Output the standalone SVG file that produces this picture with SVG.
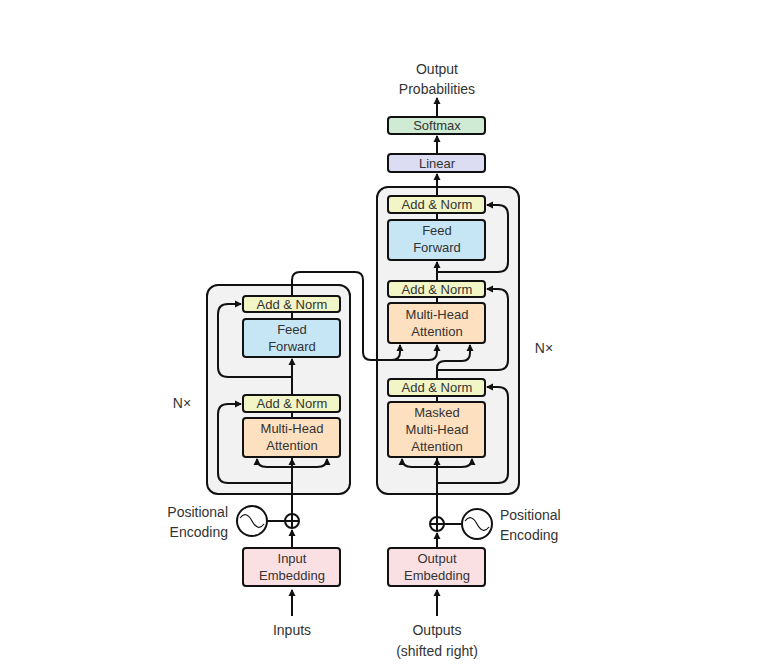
<svg xmlns="http://www.w3.org/2000/svg" width="761" height="665" viewBox="0 0 761 665">
<defs>
<style>
text{font-family:"Liberation Sans",Arial,sans-serif;font-size:13px;fill:#333;text-anchor:middle}
.lbl{font-size:14px}
.b{stroke:#111;stroke-width:2}
.stack{fill:#f2f2f2;stroke:#111;stroke-width:2}
.an{fill:#f2f5c6}.ff{fill:#c6e6f6}.mha{fill:#fde0bf}.emb{fill:#fbe0e3}.lin{fill:#dcdcf2}.sm{fill:#d0ebd3}
.c{fill:none;stroke:#111;stroke-width:2}
</style>
<marker id="ah" markerWidth="8" markerHeight="8" refX="6" refY="4" orient="auto" markerUnits="userSpaceOnUse"><path d="M0,0.5 L7,4 L0,7.5 Z" fill="#111"/></marker>
</defs>
<rect width="761" height="665" fill="#fff"/>
<g id="encoder-stack"><rect class="stack" x="207" y="285" width="143" height="209" rx="11"/></g>
<g id="decoder-stack"><rect class="stack" x="377" y="187" width="142" height="307" rx="11"/></g>
<g id="connectors">
<!-- encoder -->
<path class="c" d="M292,616 V590" marker-end="url(#ah)"/>
<path class="c" d="M292,548 V530" marker-end="url(#ah)"/>
<path class="c" d="M267,521 H285"/>
<path class="c" d="M292,514 V458"/>
<path class="c" d="M292,475 V459" marker-end="url(#ah)"/>
<path class="c" d="M292,467 H267 Q257,467 257,459" marker-end="url(#ah)"/>
<path class="c" d="M292,467 H317 Q327,467 327,459" marker-end="url(#ah)"/>
<path class="c" d="M292,483 H228 Q218,483 218,473 V414 Q218,404 228,404 H241" marker-end="url(#ah)"/>
<path class="c" d="M292,412 V418"/>
<path class="c" d="M292,395 V359" marker-end="url(#ah)"/>
<path class="c" d="M292,377 H228 Q218,377 218,367 V314 Q218,304 228,304 H241" marker-end="url(#ah)"/>
<path class="c" d="M292,312 V319"/>
<path class="c" d="M292,296 V280 Q292,272 300,272 H355 Q363,272 363,280 V352 Q363,360 371,360 H392 Q400,360 400,352 V345" marker-end="url(#ah)"/>
<path class="c" d="M392,360 H429 Q437,360 437,352 V345" marker-end="url(#ah)"/>
<!-- decoder -->
<path class="c" d="M437,616 V590" marker-end="url(#ah)"/>
<path class="c" d="M437,548 V533" marker-end="url(#ah)"/>
<path class="c" d="M444,524 H462"/>
<path class="c" d="M437,517 V458"/>
<path class="c" d="M437,475 V459" marker-end="url(#ah)"/>
<path class="c" d="M437,467 H412 Q402,467 402,459" marker-end="url(#ah)"/>
<path class="c" d="M437,467 H462 Q472,467 472,459" marker-end="url(#ah)"/>
<path class="c" d="M437,483 H498 Q508,483 508,473 V397 Q508,387 498,387 H487" marker-end="url(#ah)"/>
<path class="c" d="M437,396 V402"/>
<path class="c" d="M437,379 V368 Q437,361 445,361 H462 Q470,361 470,353 V345" marker-end="url(#ah)"/>
<path class="c" d="M437,370 H498 Q508,370 508,360 V299 Q508,289 498,289 H487" marker-end="url(#ah)"/>
<path class="c" d="M437,297 V303"/>
<path class="c" d="M437,281 V262" marker-end="url(#ah)"/>
<path class="c" d="M437,272 H498 Q508,272 508,262 V215 Q508,205 498,205 H487" marker-end="url(#ah)"/>
<path class="c" d="M437,213 V220"/>
<path class="c" d="M437,196 V174" marker-end="url(#ah)"/>
<path class="c" d="M437,154 V136" marker-end="url(#ah)"/>
<path class="c" d="M437,117 V98" marker-end="url(#ah)"/>
</g>
<g id="enc-addnorm2"><rect class="b an" x="243" y="296" width="97" height="16" rx="3"/><text x="292" y="309">Add &amp; Norm</text></g>
<g id="enc-ff"><rect class="b ff" x="243" y="319" width="97" height="38" rx="3"/><text x="292" y="334">Feed</text><text x="292" y="351">Forward</text></g>
<g id="enc-addnorm1"><rect class="b an" x="243" y="395" width="97" height="17" rx="3"/><text x="292" y="408">Add &amp; Norm</text></g>
<g id="enc-mha"><rect class="b mha" x="243" y="418" width="97" height="39" rx="3"/><text x="292" y="433">Multi-Head</text><text x="292" y="450">Attention</text></g>
<g id="enc-pos"><circle class="b" cx="292" cy="521" r="7" fill="#fff"/><path class="c" d="M285,521 H299 M292,514 V528" stroke-width="1.5"/>
<circle class="b" cx="252" cy="521" r="15" fill="#fff"/><path d="M240,518 Q246,510 252,521 Q258,532 264,524" fill="none" stroke="#111" stroke-width="1.2"/>
<text class="lbl" x="228" y="517" text-anchor="end" style="text-anchor:end">Positional</text><text class="lbl" x="228" y="537" style="text-anchor:end">Encoding</text></g>
<g id="input-emb"><rect class="b emb" x="243" y="548" width="97" height="38" rx="3"/><text x="292" y="563">Input</text><text x="292" y="580">Embedding</text></g>
<g id="inputs"><text class="lbl" x="292" y="635">Inputs</text></g>
<g id="enc-nx"><text class="lbl" x="182" y="408">N×</text></g>
<g id="dec-addnorm3"><rect class="b an" x="388" y="196" width="97" height="17" rx="3"/><text x="437" y="209">Add &amp; Norm</text></g>
<g id="dec-ff"><rect class="b ff" x="388" y="220" width="97" height="40" rx="3"/><text x="437" y="235">Feed</text><text x="437" y="252">Forward</text></g>
<g id="dec-addnorm2"><rect class="b an" x="388" y="281" width="97" height="16" rx="3"/><text x="437" y="294">Add &amp; Norm</text></g>
<g id="dec-mha"><rect class="b mha" x="388" y="303" width="97" height="40" rx="3"/><text x="437" y="319">Multi-Head</text><text x="437" y="336">Attention</text></g>
<g id="dec-addnorm1"><rect class="b an" x="388" y="379" width="97" height="17" rx="3"/><text x="437" y="392">Add &amp; Norm</text></g>
<g id="dec-mmha"><rect class="b mha" x="388" y="402" width="97" height="55" rx="3"/><text x="437" y="417">Masked</text><text x="437" y="434">Multi-Head</text><text x="437" y="451">Attention</text></g>
<g id="dec-pos"><circle class="b" cx="437" cy="524" r="7" fill="#fff"/><path class="c" d="M430,524 H444 M437,517 V531" stroke-width="1.5"/>
<circle class="b" cx="477" cy="524" r="15" fill="#fff"/><path d="M465,521 Q471,513 477,524 Q483,535 489,527" fill="none" stroke="#111" stroke-width="1.2"/>
<text class="lbl" x="500" y="520" style="text-anchor:start">Positional</text><text class="lbl" x="500" y="540" style="text-anchor:start">Encoding</text></g>
<g id="output-emb"><rect class="b emb" x="388" y="548" width="97" height="38" rx="3"/><text x="437" y="563">Output</text><text x="437" y="580">Embedding</text></g>
<g id="outputs"><text class="lbl" x="437" y="635">Outputs</text><text class="lbl" x="437" y="656">(shifted right)</text></g>
<g id="dec-nx"><text class="lbl" x="544" y="353">N×</text></g>
<g id="linear"><rect class="b lin" x="388" y="154" width="97" height="18" rx="3"/><text x="437" y="168">Linear</text></g>
<g id="softmax"><rect class="b sm" x="388" y="117" width="97" height="17" rx="3"/><text x="437" y="130">Softmax</text></g>
<g id="output-prob"><text class="lbl" x="437" y="74">Output</text><text class="lbl" x="437" y="94">Probabilities</text></g>
</svg>
